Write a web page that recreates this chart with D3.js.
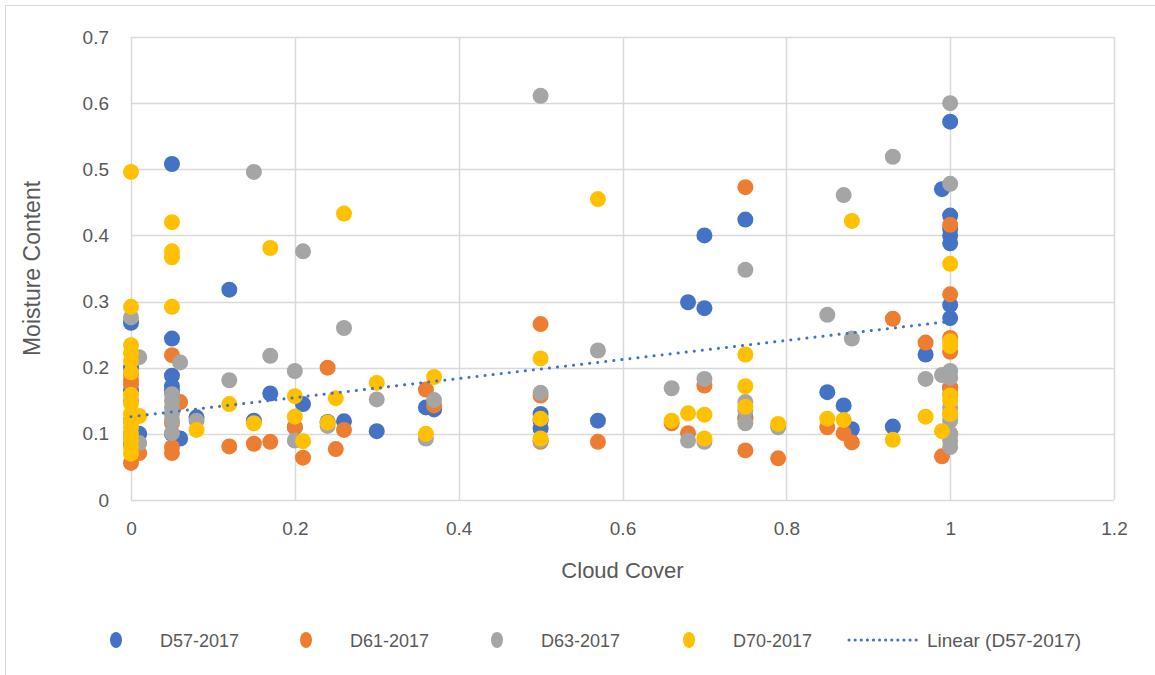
<!DOCTYPE html>
<html>
<head>
<meta charset="utf-8">
<script src="https://cdn.jsdelivr.net/npm/d3@7"></script>
<style>
  body { margin: 0; background: #fff; }
  text { font-family: "Liberation Sans", Arial, sans-serif; fill: #595959; }
</style>
</head>
<body>
<svg id="Chart"></svg>
<script>
// ------------- Moisture Content vs Cloud Cover -------------
// each point is [cloud cover, moisture content]
let d57 = [
  [0, 0.268], [0, 0.2], [0, 0.166], [0, 0.12], [0, 0.1], [0, 0.085], [0.01, 0.1],
  [0.05, 0.508], [0.05, 0.244], [0.05, 0.188], [0.05, 0.172], [0.05, 0.165], [0.05, 0.1],
  [0.06, 0.093], [0.08, 0.125], [0.12, 0.318], [0.15, 0.12], [0.17, 0.161], [0.2, 0.11],
  [0.21, 0.145], [0.24, 0.118], [0.26, 0.119], [0.3, 0.104], [0.36, 0.14], [0.37, 0.137],
  [0.5, 0.13], [0.5, 0.12], [0.5, 0.108], [0.57, 0.12], [0.68, 0.299], [0.7, 0.4], [0.7, 0.29],
  [0.75, 0.424], [0.75, 0.125], [0.85, 0.163], [0.87, 0.143], [0.88, 0.107], [0.93, 0.111],
  [0.97, 0.22], [0.99, 0.47], [1, 0.572], [1, 0.43], [1, 0.41], [1, 0.4], [1, 0.388],
  [1, 0.295], [1, 0.275], [1, 0.17]
];
let d61 = [
  [0, 0.181], [0, 0.19], [0, 0.175], [0, 0.09], [0, 0.056], [0.01, 0.071], [0.05, 0.219],
  [0.05, 0.116], [0.05, 0.08], [0.05, 0.071], [0.06, 0.148], [0.12, 0.081], [0.15, 0.085],
  [0.17, 0.088], [0.2, 0.11], [0.21, 0.064], [0.24, 0.2], [0.25, 0.077], [0.26, 0.106],
  [0.36, 0.167], [0.37, 0.143], [0.5, 0.266], [0.5, 0.158], [0.5, 0.088], [0.57, 0.088],
  [0.66, 0.116], [0.68, 0.101], [0.7, 0.173], [0.75, 0.473], [0.75, 0.122], [0.75, 0.075],
  [0.79, 0.063], [0.85, 0.11], [0.87, 0.101], [0.88, 0.087], [0.93, 0.274], [0.97, 0.238],
  [0.99, 0.066], [1, 0.416], [1, 0.311], [1, 0.245], [1, 0.224], [1, 0.17], [1, 0.16],
  [1, 0.13], [1, 0.1]
];
let d63 = [
  [0, 0.276], [0, 0.15], [0, 0.12], [0, 0.09], [0.01, 0.216], [0.01, 0.086], [0.05, 0.16],
  [0.05, 0.15], [0.05, 0.14], [0.05, 0.13], [0.05, 0.12], [0.05, 0.101], [0.06, 0.208],
  [0.08, 0.12], [0.12, 0.181], [0.15, 0.496], [0.17, 0.218], [0.2, 0.195], [0.2, 0.09],
  [0.21, 0.376], [0.24, 0.112], [0.26, 0.26], [0.3, 0.152], [0.36, 0.093], [0.37, 0.151],
  [0.5, 0.611], [0.5, 0.162], [0.5, 0.09], [0.57, 0.226], [0.66, 0.169], [0.68, 0.09],
  [0.7, 0.183], [0.7, 0.088], [0.75, 0.348], [0.75, 0.148], [0.75, 0.135], [0.75, 0.116],
  [0.79, 0.11], [0.85, 0.28], [0.87, 0.461], [0.88, 0.244], [0.93, 0.519], [0.97, 0.183],
  [0.99, 0.189], [1, 0.6], [1, 0.478], [1, 0.195], [1, 0.185], [1, 0.14], [1, 0.12],
  [1, 0.1], [1, 0.09], [1, 0.08]
];
let d70 = [
  [0, 0.496], [0, 0.292], [0, 0.234], [0, 0.222], [0, 0.21], [0, 0.193], [0, 0.159],
  [0, 0.146], [0, 0.13], [0, 0.12], [0, 0.11], [0, 0.1], [0, 0.09], [0, 0.08], [0, 0.07],
  [0.01, 0.127], [0.05, 0.42], [0.05, 0.376], [0.05, 0.367], [0.05, 0.292], [0.08, 0.106],
  [0.12, 0.145], [0.15, 0.116], [0.17, 0.381], [0.2, 0.157], [0.2, 0.126], [0.21, 0.089],
  [0.24, 0.117], [0.25, 0.154], [0.26, 0.433], [0.3, 0.177], [0.36, 0.1], [0.37, 0.186],
  [0.5, 0.214], [0.5, 0.123], [0.5, 0.093], [0.57, 0.455], [0.66, 0.12], [0.68, 0.131],
  [0.7, 0.129], [0.7, 0.093], [0.75, 0.22], [0.75, 0.172], [0.75, 0.141], [0.79, 0.115],
  [0.85, 0.123], [0.87, 0.121], [0.88, 0.422], [0.93, 0.091], [0.97, 0.126], [0.99, 0.104],
  [1, 0.357], [1, 0.24], [1, 0.233], [1, 0.158], [1, 0.15], [1, 0.13]
];
// linear trendline of D57-2017, end points
let trendD57 = [[0, 0.126], [1, 0.27]];

let seriesNames = ['D57-2017', 'D61-2017', 'D63-2017', 'D70-2017'];
let seriesData = [d57, d61, d63, d70];
let seriesColors = ['#4472C4', '#ED7D31', '#A5A5A5', '#FFC000'];
let trendName = 'Linear (D57-2017)';

let xTicks = [0, 0.2, 0.4, 0.6, 0.8, 1, 1.2];
let yTicks = [0, 0.1, 0.2, 0.3, 0.4, 0.5, 0.6, 0.7];

function getChartConfig() {
  let width = 1155;
  let height = 675;
  let margin = { top: 37, bottom: 175, left: 131, right: 41 };
  let bodyWidth = width - margin.left - margin.right;
  let bodyHeight = height - margin.top - margin.bottom;
  let container = d3.select('#Chart').attr('width', width).attr('height', height);
  return { width, height, margin, bodyWidth, bodyHeight, container };
}

function getChartScales(config) {
  let { bodyWidth, bodyHeight } = config;
  let xScale = d3.scaleLinear().domain([0, 1.2]).range([0, bodyWidth]);
  let yScale = d3.scaleLinear().domain([0, 0.7]).range([bodyHeight, 0]);
  return { xScale, yScale };
}

function drawFrame(config) {
  // outer chart border (only left/top visible in the crop)
  config.container.append('rect')
    .attr('x', 5.5).attr('y', 5.5)
    .attr('width', config.width + 20).attr('height', config.height + 20)
    .attr('fill', 'none').attr('stroke', '#d9d9d9').attr('stroke-width', 1);
}

function drawGridAndAxes(scales, config) {
  let { xScale, yScale } = scales;
  let { container, margin, bodyHeight, bodyWidth } = config;
  let body = container.append('g')
    .attr('transform', `translate(${margin.left},${margin.top})`);

  body.append('g').selectAll('line').data(yTicks).enter().append('line')
    .attr('x1', 0).attr('x2', bodyWidth)
    .attr('y1', d => Math.round(yScale(d)) + 0.5).attr('y2', d => Math.round(yScale(d)) + 0.5)
    .attr('stroke', '#d9d9d9').attr('stroke-width', 1.5);

  body.append('g').selectAll('line').data(xTicks).enter().append('line')
    .attr('y1', 0).attr('y2', bodyHeight)
    .attr('x1', d => Math.round(xScale(d)) + 0.5).attr('x2', d => Math.round(xScale(d)) + 0.5)
    .attr('stroke', '#d9d9d9').attr('stroke-width', 1.5);

  let axisX = d3.axisBottom(xScale).tickValues(xTicks).tickSize(0).tickPadding(22)
    .tickFormat(d3.format('~g'));
  let gx = body.append('g').attr('transform', `translate(0,${bodyHeight})`).call(axisX);
  gx.select('.domain').remove();
  gx.selectAll('text').style('font-size', '19px').attr('fill', '#595959');

  let axisY = d3.axisLeft(yScale).tickValues(yTicks).tickSize(0).tickPadding(22)
    .tickFormat(d3.format('~g'));
  let gy = body.append('g').call(axisY);
  gy.select('.domain').remove();
  gy.selectAll('text').style('font-size', '19px').attr('fill', '#595959');

  container.append('text')
    .attr('x', margin.left + xScale(0.6)).attr('y', 578)
    .attr('text-anchor', 'middle').style('font-size', '22px')
    .text('Cloud Cover');

  container.append('text')
    .attr('transform', `translate(40,${margin.top + bodyHeight / 2}) rotate(-90)`)
    .attr('text-anchor', 'middle').style('font-size', '23px')
    .text('Moisture Content');
}

function drawPoints(scales, config) {
  let { xScale, yScale } = scales;
  let { container, margin } = config;
  let body = container.append('g')
    .attr('transform', `translate(${margin.left},${margin.top})`);

  seriesData.forEach((data, i) => {
    body.append('g').selectAll('circle').data(data).enter().append('circle')
      .attr('cx', d => xScale(d[0]))
      .attr('cy', d => yScale(d[1]))
      .attr('r', 8)
      .attr('fill', seriesColors[i]);
  });

  let line = d3.line().x(d => xScale(d[0])).y(d => yScale(d[1]));
  body.append('path')
    .attr('d', line(trendD57))
    .attr('fill', 'none')
    .attr('stroke', seriesColors[0])
    .attr('stroke-width', 3)
    .attr('stroke-linecap', 'round')
    .attr('stroke-dasharray', '0.1 8');
}

function drawLegend(config) {
  let { container } = config;
  let legendY = 640;
  let markerX = [116, 306, 497, 689];
  let legend = container.append('g');

  seriesNames.forEach((name, i) => {
    legend.append('ellipse')
      .attr('cx', markerX[i]).attr('cy', legendY)
      .attr('rx', 6).attr('ry', 8)
      .attr('fill', seriesColors[i]);
    legend.append('text')
      .attr('x', markerX[i] + 44).attr('y', legendY + 7)
      .style('font-size', '18px')
      .text(name);
  });

  legend.append('line')
    .attr('x1', 849).attr('x2', 918)
    .attr('y1', legendY).attr('y2', legendY)
    .attr('stroke', seriesColors[0]).attr('stroke-width', 3)
    .attr('stroke-linecap', 'round').attr('stroke-dasharray', '0.1 6');
  legend.append('text')
    .attr('x', 927).attr('y', legendY + 7)
    .style('font-size', '19px')
    .text(trendName);
}

function drawChart() {
  let config = getChartConfig();
  let scales = getChartScales(config);
  drawFrame(config);
  drawGridAndAxes(scales, config);
  drawPoints(scales, config);
  drawLegend(config);
}

drawChart();
</script>
</body>
</html>
